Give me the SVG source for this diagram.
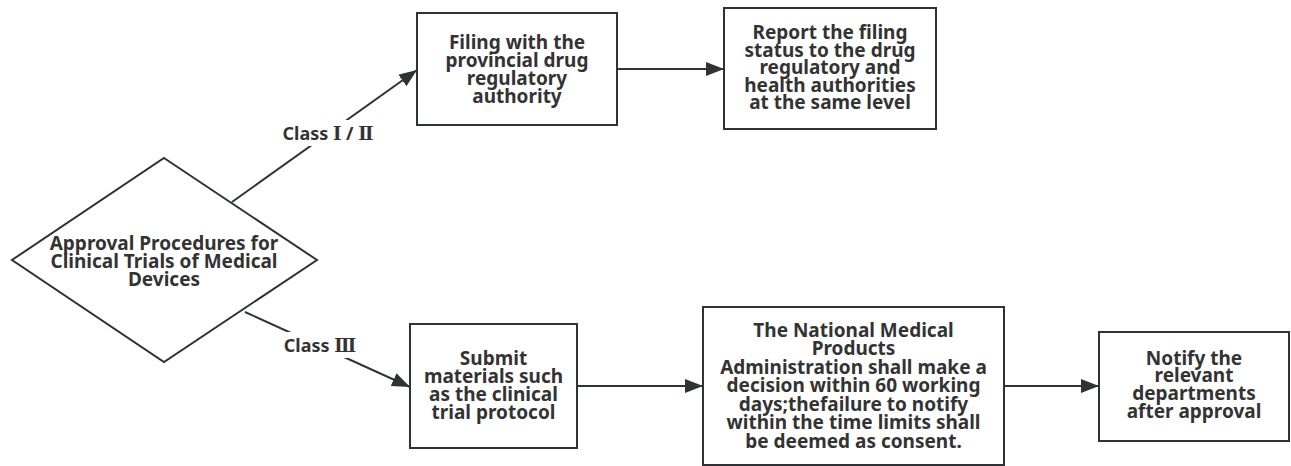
<svg xmlns="http://www.w3.org/2000/svg" width="1291" height="466" viewBox="0 0 1291 466">
<style>
.shape{fill:#ffffff;stroke:#2f3336;stroke-width:2}
.edge{fill:none;stroke:#2f3336;stroke-width:2}
.t{font-family:"Noto Sans","Open Sans","Noto Sans CJK SC",sans-serif;font-weight:bold;font-size:19px;fill:#333333;text-anchor:middle}
.lbl{font-family:"Noto Sans","Noto Sans CJK SC",sans-serif;font-weight:bold;font-size:18px;fill:#333333;text-anchor:middle}
.rn{font-family:"DejaVu Serif","Noto Sans CJK SC",serif;font-weight:bold}
</style>
<defs>
<marker id="arr" markerUnits="userSpaceOnUse" markerWidth="20" markerHeight="16" refX="18" refY="7" orient="auto">
<path d="M0,0 L18,7 L0,14 z" fill="#2f3336"/>
</marker>
</defs>
<g id="connectors">
<path class="edge" d="M232,202 L417,70" marker-end="url(#arr)"/>
<path class="edge" d="M617,69 L724,69" marker-end="url(#arr)"/>
<path class="edge" d="M245,312 L410,387" marker-end="url(#arr)"/>
<path class="edge" d="M577,386 L703,386" marker-end="url(#arr)"/>
<path class="edge" d="M1004,386 L1099,386" marker-end="url(#arr)"/>
<rect x="276" y="120" width="104" height="26" fill="#ffffff"/>
<text class="lbl" x="328" y="140">Class <tspan class="rn">Ⅰ</tspan> / <tspan class="rn">Ⅱ</tspan></text>
<rect x="281" y="332" width="78" height="26" fill="#ffffff"/>
<text class="lbl" x="320" y="352">Class <tspan class="rn">Ⅲ</tspan></text>
</g>
<g id="start">
<polygon class="shape" points="164,158 317,260 164,362 12,260"/>
<text class="t" x="164" y="250">Approval Procedures for</text>
<text class="t" x="164" y="268">Clinical Trials of Medical</text>
<text class="t" x="164" y="286">Devices</text>
</g>
<g id="filing">
<rect class="shape" x="417" y="13" width="200" height="112"/>
<text class="t" x="517" y="49">Filing with the</text>
<text class="t" x="517" y="67">provincial drug</text>
<text class="t" x="517" y="85">regulatory</text>
<text class="t" x="517" y="103">authority</text>
</g>
<g id="report">
<rect class="shape" x="724" y="8" width="212" height="121"/>
<text class="t" x="830" y="39">Report the filing</text>
<text class="t" x="830" y="57">status to the drug</text>
<text class="t" x="830" y="74">regulatory and</text>
<text class="t" x="830" y="92">health authorities</text>
<text class="t" x="830" y="109">at the same level</text>
</g>
<g id="submit">
<rect class="shape" x="410" y="324" width="167" height="124"/>
<text class="t" x="493.5" y="365">Submit</text>
<text class="t" x="493.5" y="383">materials such</text>
<text class="t" x="493.5" y="401">as the clinical</text>
<text class="t" x="493.5" y="419">trial protocol</text>
</g>
<g id="nmpa">
<rect class="shape" x="703" y="307" width="301" height="158"/>
<text class="t" x="853.5" y="337">The National Medical</text>
<text class="t" x="853.5" y="355">Products</text>
<text class="t" x="853.5" y="374">Administration shall make a</text>
<text class="t" x="853.5" y="392">decision within 60 working</text>
<text class="t" x="853.5" y="411">days;thefailure to notify</text>
<text class="t" x="853.5" y="429">within the time limits shall</text>
<text class="t" x="853.5" y="448">be deemed as consent.</text>
</g>
<g id="notify">
<rect class="shape" x="1099" y="332" width="190" height="109"/>
<text class="t" x="1194" y="365">Notify the</text>
<text class="t" x="1194" y="382">relevant</text>
<text class="t" x="1194" y="400">departments</text>
<text class="t" x="1194" y="418">after approval</text>
</g>
</svg>
